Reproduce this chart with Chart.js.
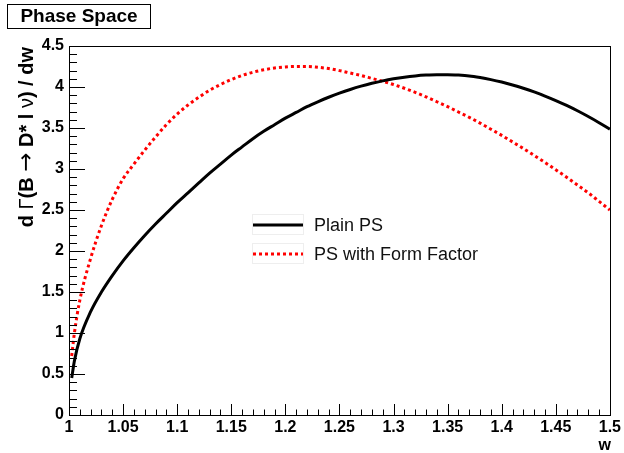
<!DOCTYPE html>
<html>
<head>
<meta charset="utf-8">
<script src="https://cdn.jsdelivr.net/npm/chart.js@4/dist/chart.umd.min.js"></script>
<style>
  body { margin: 0; background: #fff; }
  canvas { display: block; }
</style>
</head>
<body>
<canvas id="ps" width="624" height="453"></canvas>
<script>
// w = v_B . v_D*, sampled points of the two spectra
const wValues = [1.0025, 1.005, 1.01, 1.02, 1.03, 1.04, 1.05, 1.06, 1.07, 1.08, 1.09,
  1.10, 1.11, 1.12, 1.13, 1.14, 1.15, 1.16, 1.17, 1.18, 1.19,
  1.20, 1.21, 1.22, 1.23, 1.24, 1.25, 1.26, 1.27, 1.28, 1.29,
  1.30, 1.31, 1.32, 1.33, 1.34, 1.35, 1.36, 1.37, 1.38, 1.39,
  1.40, 1.41, 1.42, 1.43, 1.44, 1.45, 1.46, 1.47, 1.48, 1.49, 1.50];

const plainPS = [0.45, 0.66, 0.93, 1.26, 1.50, 1.70, 1.88, 2.04, 2.19, 2.33, 2.46,
  2.59, 2.71, 2.83, 2.95, 3.06, 3.17, 3.27, 3.37, 3.46, 3.54,
  3.62, 3.69, 3.76, 3.82, 3.875, 3.925, 3.97, 4.01, 4.045, 4.075,
  4.10, 4.12, 4.135, 4.145, 4.15, 4.15, 4.145, 4.135, 4.115, 4.09,
  4.06, 4.025, 3.985, 3.94, 3.89, 3.835, 3.775, 3.71, 3.64, 3.565, 3.485];

const formFactorPS = [0.72, 1.00, 1.40, 1.91, 2.31, 2.63, 2.88, 3.06, 3.23, 3.39, 3.54,
  3.67, 3.78, 3.875, 3.96, 4.03, 4.09, 4.14, 4.18, 4.21, 4.232,
  4.245, 4.25, 4.25, 4.24, 4.225, 4.20, 4.17, 4.14, 4.105, 4.07,
  4.03, 3.985, 3.935, 3.88, 3.82, 3.76, 3.695, 3.63, 3.56, 3.485,
  3.41, 3.33, 3.25, 3.165, 3.08, 2.99, 2.90, 2.805, 2.71, 2.605, 2.50];

const seriesNames = ["Plain PS", "PS with Form Factor"];
const titleText = "Phase Space";
const xTitle = "w";
// y title pieces: [text, font]; symbols set in a light face
const yTitleParts = [
  ["d ", "bold 20px 'Liberation Sans'"],
  ["\u0393", "20px 'Liberation Sans'"],
  ["(B ", "bold 20px 'Liberation Sans'"],
  ["\u2192", "23px 'DejaVu Sans'"],
  [" D* l ", "bold 20px 'Liberation Sans'"],
  ["\u03BD", "20px 'Liberation Sans'"],
  [") / dw", "bold 20px 'Liberation Sans'"]
];

const FONT = "'Liberation Sans', Arial, sans-serif";
Chart.defaults.font.family = FONT;

function toXY(ys) {
  return wValues.map((w, i) => ({ x: w, y: ys[i] }));
}

// ROOT style frame: ticks drawn inside, titles, legend box
const rootFrame = {
  id: "rootFrame",
  afterDraw(chart) {
    const ctx = chart.ctx;
    const a = chart.chartArea;
    const xs = chart.scales.x, ys = chart.scales.y;
    ctx.save();

    // frame
    ctx.strokeStyle = "#000";
    ctx.lineWidth = 1;
    ctx.strokeRect(Math.round(a.left) + 0.5, Math.round(a.top) + 0.5,
      Math.round(a.right - a.left), Math.round(a.bottom - a.top));

    ctx.beginPath();
    // x ticks: major 0.05, minor 0.01
    for (let i = 0; i <= 50; i++) {
      const px = Math.round(xs.getPixelForValue(1 + i * 0.01)) + 0.5;
      const len = i % 5 === 0 ? 11 : 5.5;
      ctx.moveTo(px, a.bottom);
      ctx.lineTo(px, a.bottom - len);
    }
    // y ticks: major 0.5, minor 0.1
    for (let i = 0; i <= 45; i++) {
      const py = Math.round(ys.getPixelForValue(i * 0.1)) + 0.5;
      const len = i % 5 === 0 ? 16 : 8;
      ctx.moveTo(a.left, py);
      ctx.lineTo(a.left + len, py);
    }
    ctx.stroke();

    // x axis title
    ctx.fillStyle = "#000";
    ctx.font = "bold 16px " + FONT;
    ctx.textAlign = "right";
    ctx.textBaseline = "alphabetic";
    ctx.fillText(xTitle, a.right + 1, 450);

    // y axis title, rotated, ending at the top of the axis
    ctx.save();
    ctx.translate(33, 47);
    ctx.rotate(-Math.PI / 2);
    ctx.textAlign = "left";
    const widths = yTitleParts.map(([t, f]) => {
      ctx.font = f;
      return ctx.measureText(t).width;
    });
    let cx = -widths.reduce((s, w) => s + w, 0);
    yTitleParts.forEach(([t, f], i) => {
      ctx.font = f;
      ctx.fillText(t, cx, 0);
      cx += widths[i];
    });
    ctx.restore();

    // title box
    ctx.fillStyle = "#fff";
    ctx.fillRect(7, 4, 144, 25);
    ctx.strokeStyle = "#000";
    ctx.strokeRect(7.5, 4.5, 143, 24);
    ctx.fillStyle = "#000";
    ctx.font = "bold 19px " + FONT;
    ctx.textAlign = "center";
    ctx.textBaseline = "middle";
    ctx.fillText(titleText, 79, 17);

    // legend
    const legendRows = [
      { name: seriesNames[0], color: "#000", dash: [], y: 225 },
      { name: seriesNames[1], color: "#ff0000", dash: [3, 3], y: 254 }
    ];
    legendRows.forEach(r => {
      ctx.strokeStyle = "#eeeeee";
      ctx.lineWidth = 1;
      ctx.setLineDash([]);
      ctx.strokeRect(252.5, r.y - 10.5, 51, 20);
      ctx.strokeStyle = r.color;
      ctx.lineWidth = 3;
      ctx.setLineDash(r.dash);
      ctx.beginPath();
      ctx.moveTo(253, r.y);
      ctx.lineTo(303, r.y);
      ctx.stroke();
      ctx.setLineDash([]);
      ctx.fillStyle = "#111";
      ctx.font = "18px " + FONT;
      ctx.textAlign = "left";
      ctx.textBaseline = "middle";
      ctx.fillText(r.name, 314, r.y + 1);
    });

    ctx.restore();
  }
};

new Chart(document.getElementById("ps"), {
  type: "line",
  data: {
    datasets: [
      {
        label: seriesNames[0],
        data: toXY(plainPS),
        borderColor: "#000",
        borderWidth: 3,
        pointRadius: 0,
        cubicInterpolationMode: "monotone",
        fill: false
      },
      {
        label: seriesNames[1],
        data: toXY(formFactorPS),
        borderColor: "#ff0000",
        borderWidth: 3,
        borderDash: [3, 3],
        pointRadius: 0,
        cubicInterpolationMode: "monotone",
        fill: false
      }
    ]
  },
  options: {
    responsive: false,
    animation: false,
    events: [],
    layout: { padding: { left: 0, top: 46, right: 14, bottom: 0 } },
    plugins: {
      legend: { display: false },
      tooltip: { enabled: false }
    },
    scales: {
      x: {
        type: "linear",
        min: 1,
        max: 1.5,
        border: { display: false },
        grid: { display: false, drawTicks: false },
        afterFit: s => { s.height = 38; },
        afterBuildTicks: s => {
          s.ticks = [];
          for (let i = 0; i <= 10; i++) s.ticks.push({ value: 1 + i * 0.05 });
        },
        ticks: {
          autoSkip: false,
          maxRotation: 0,
          padding: 3,
          color: "#000",
          font: { size: 16, weight: "bold" },
          callback: v => String(+v.toFixed(2))
        }
      },
      y: {
        min: 0,
        max: 4.5,
        border: { display: false },
        grid: { display: false, drawTicks: false },
        afterFit: s => { s.width = 69; },
        afterBuildTicks: s => {
          s.ticks = [];
          for (let i = 0; i <= 9; i++) s.ticks.push({ value: i * 0.5 });
        },
        ticks: {
          autoSkip: false,
          padding: 5,
          color: "#000",
          font: { size: 16, weight: "bold" },
          callback: v => String(+v.toFixed(1))
        }
      }
    }
  },
  plugins: [rootFrame]
});
</script>
</body>
</html>
